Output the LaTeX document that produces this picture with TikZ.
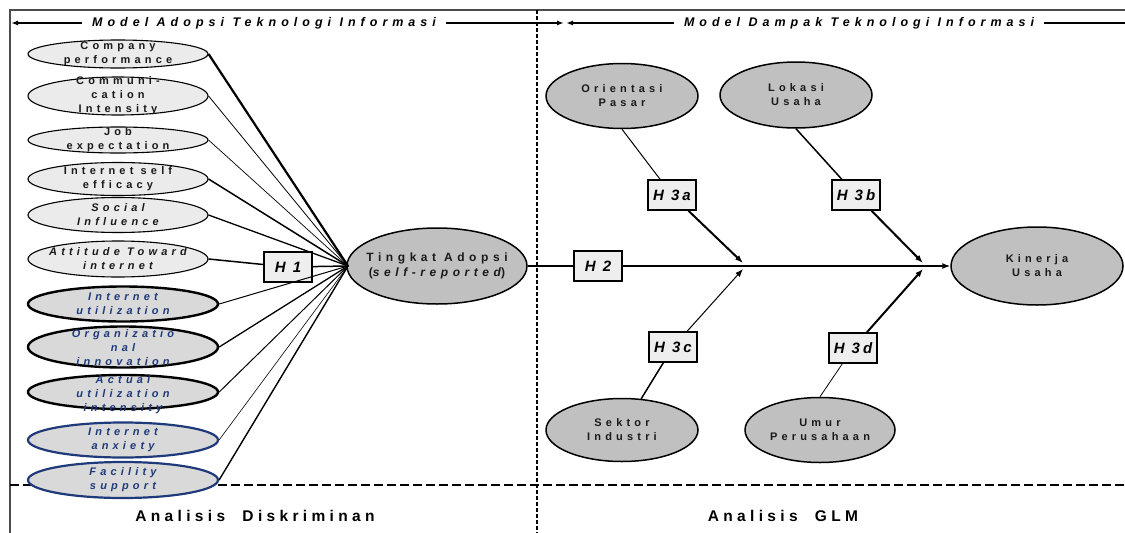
\documentclass[tikz,border=0pt]{standalone}
\usepackage{fontspec}
\setmainfont{Liberation Sans}
\newfontfamily\lsfont[LetterSpace=38]{Liberation Sans}
\newfontfamily\lshdr[LetterSpace=40]{Liberation Sans}
\newfontfamily\lsbig[LetterSpace=28]{Liberation Sans}
\newfontfamily\lsh[LetterSpace=20]{Liberation Sans}
\usetikzlibrary{shapes.geometric,arrows.meta}
\definecolor{lightfill}{HTML}{EBEBEB}
\definecolor{midfill}{HTML}{D9D9D9}
\definecolor{darkfill}{HTML}{C0C0C0}
\definecolor{navy}{HTML}{1F3A7A}
\definecolor{boxfill}{HTML}{EEEEEE}
\definecolor{inkgray}{HTML}{1A1A1A}
\begin{document}
\begin{tikzpicture}[x=1pt,y=-1pt,
  ellbase/.style={ellipse, inner sep=0pt, minimum width=180},
  ellA/.style={ellbase, draw=black, line width=1.1pt, fill=lightfill},
  ellB/.style={ellbase, minimum width=190, draw=black, line width=2.4pt, fill=midfill},
  ellC/.style={ellbase, minimum width=190, draw=navy, line width=2.2pt, fill=midfill},
  ellR/.style={ellipse, inner sep=0pt, draw=black, line width=1.5pt, fill=darkfill},
  txtA/.style={align=center, inner sep=0pt, text=inkgray, font=\lsfont\bfseries\fontsize{11}{14}\selectfont},
  txtAi/.style={txtA, font=\lsfont\bfseries\itshape\fontsize{11}{14}\selectfont},
  txtB/.style={txtAi, text=navy},
  txtR/.style={align=center, inner sep=0pt, text=inkgray, font=\lsfont\bfseries\fontsize{11}{14}\selectfont},
  hbox/.style={draw, line width=1.5pt, fill=boxfill, minimum width=48, minimum height=30, inner sep=0pt, font=\lsh\bfseries\itshape\fontsize{15}{15}\selectfont},
  hdr/.style={inner xsep=10pt, inner ysep=0pt, font=\lshdr\bfseries\itshape\fontsize{12.5}{13}\selectfont},
  bot/.style={inner sep=0pt, font=\lsbig\bfseries\fontsize{15.5}{16}\selectfont},
  arr/.style={-{Latex[length=8pt,width=6pt]}},
  tarr/.style={line width=1.5pt, -{Latex[length=7pt,width=5pt]}}
]
\useasboundingbox (0,0) rectangle (1125,533);

% frame and dividers
\draw[line width=1.2pt, black!70] (10,533) -- (10,10) -- (1125,10);
\draw[line width=1.8pt, dash pattern=on 4pt off 2pt] (537,10) -- (537,533);
\draw[line width=1.8pt, dash pattern=on 9pt off 4pt] (10,485) -- (1125,485);

% header
\node[hdr] (hl) at (264,23) {Model Adopsi Teknologi Informasi};
\node[hdr] (hr) at (859,23) {Model Dampak Teknologi Informasi};
\coordinate (al) at (11,23);
\coordinate (am1) at (564,23);
\coordinate (am2) at (566,23);
\coordinate (ar) at (1125,23);
\draw[tarr] (hl.west) -- (al);
\draw[tarr] (hl.east) -- (am1);
\draw[tarr] (hr.west) -- (am2);
\draw[line width=1.5pt] (hr.east) -- (ar);

% left ellipses
\node[ellA, minimum height=28] (c1) at (118,54) {};
\node[txtA] (c1t) at (c1) {Company\\performance};
\node[ellA, minimum height=38] (c2) at (118,96) {};
\node[txtA] (c2t) at (c2) {Communi-\\cation\\Intensity};
\node[ellA, minimum height=26] (c3) at (118,140) {};
\node[txtA] (c3t) at (c3) {Job\\expectation};
\node[ellA, minimum height=33] (c4) at (118,179) {};
\node[txtA] (c4t) at (c4) {Internet self\\efficacy};
\node[ellA, minimum height=35] (c5) at (118,215) {};
\node[txtAi] (c5t) at (c5) {Social\\Influence};
\node[ellA, minimum height=36] (c6) at (118,259) {};
\node[txtAi] (c6t) at (c6) {Attitude Toward\\internet};
\node[ellB, minimum height=35] (c7) at (123,304) {};
\node[txtB] (c7t) at (c7) {Internet\\utilization};
\node[ellB, minimum height=41] (c8) at (123,347) {};
\node[txtB] (c8t) at (123,348) {Organizatio\\nal\\innovation};
\node[ellB, minimum height=34] (c9) at (123,392) {};
\node[txtB] (c9t) at (123,395) {Actual\\utilization\\intensity};
\node[ellC, minimum height=35] (c10) at (123,440) {};
\node[txtB] (c10t) at (c10) {Internet\\anxiety};
\node[ellC, minimum height=36] (c11) at (123,480) {};
\node[txtB] (c11t) at (c11) {Facility\\support};

% central and right ellipses
\node[ellR, minimum width=180, minimum height=76] (ta) at (437,266) {};
\node[txtR, font=\lsfont\bfseries\fontsize{12}{15}\selectfont] (tat) at (ta) {Tingkat Adopsi\\({\itshape self-reported})};
\node[ellR, minimum width=172, minimum height=78] (ku) at (1037,266) {};
\node[txtR] (kut) at (ku) {Kinerja\\Usaha};
\node[ellR, minimum width=152, minimum height=65] (op) at (622,96) {};
\node[txtR] (opt) at (op) {Orientasi\\Pasar};
\node[ellR, minimum width=152, minimum height=66] (lu) at (796,95) {};
\node[txtR] (lut) at (lu) {Lokasi\\Usaha};
\node[ellR, minimum width=152, minimum height=63] (si) at (622,430) {};
\node[txtR] (sit) at (si) {Sektor\\Industri};
\node[ellR, minimum width=150, minimum height=65] (uu) at (820,430) {};
\node[txtR] (uut) at (uu) {Umur\\Perusahaan};

% hypothesis boxes
\node[hbox] (h1) at (288,267) {H 1};
\node[hbox] (h2) at (598,266) {H 2};
\node[hbox] (h3a) at (672,195) {H 3a};
\node[hbox] (h3b) at (856,195) {H 3b};
\node[hbox] (h3c) at (673,347) {H 3c};
\node[hbox] (h3d) at (853,348) {H 3d};

% hub lines
\coordinate (hub) at (348,266);
\draw[line width=2.2pt] (c1.east) -- (hub);
\draw[line width=0.8pt] (c2.east) -- (hub);
\draw[line width=0.7pt] (c3.east) -- (hub);
\draw[line width=1.5pt] (c4.east) -- (hub);
\draw[line width=1.3pt] (c5.east) -- (hub);
\draw[line width=1.5pt] (c6.east) -- (h1);
\draw[line width=1.5pt] (h1) -- (hub);
\draw[line width=1.0pt] (c7.east) -- (hub);
\draw[line width=1.3pt] (c8.east) -- (hub);
\draw[line width=1.0pt] (c9.east) -- (hub);
\draw[line width=0.6pt] (c10.east) -- (hub);
\draw[line width=1.4pt] (c11.east) -- (hub);

% main line
\draw[line width=1.5pt] (ta) -- (h2);
\draw[line width=1.5pt, arr] (h2) -- (ku);

% moderators
\coordinate (j1a) at (743,263);
\coordinate (j1b) at (743,269);
\coordinate (j2a) at (923,263);
\coordinate (j2b) at (923,269);
\draw[line width=1.0pt] (op.south) -- (h3a);
\draw[line width=2.0pt, arr] (h3a) -- (j1a);
\draw[line width=1.5pt] (lu.south) -- (h3b);
\draw[line width=2.0pt, arr] (h3b) -- (j2a);
\draw[line width=1.5pt] (si) -- (h3c);
\draw[line width=1.0pt, arr] (h3c) -- (j1b);
\draw[line width=0.8pt] (uu.north) -- (h3d);
\draw[line width=2.0pt, arr] (h3d) -- (j2b);

% bottom labels
\node[bot] (ba) at (255,516) {Analisis\ \ Diskriminan};
\node[bot] (bg) at (783,516) {Analisis\ \ GLM};
\end{tikzpicture}
\end{document}
